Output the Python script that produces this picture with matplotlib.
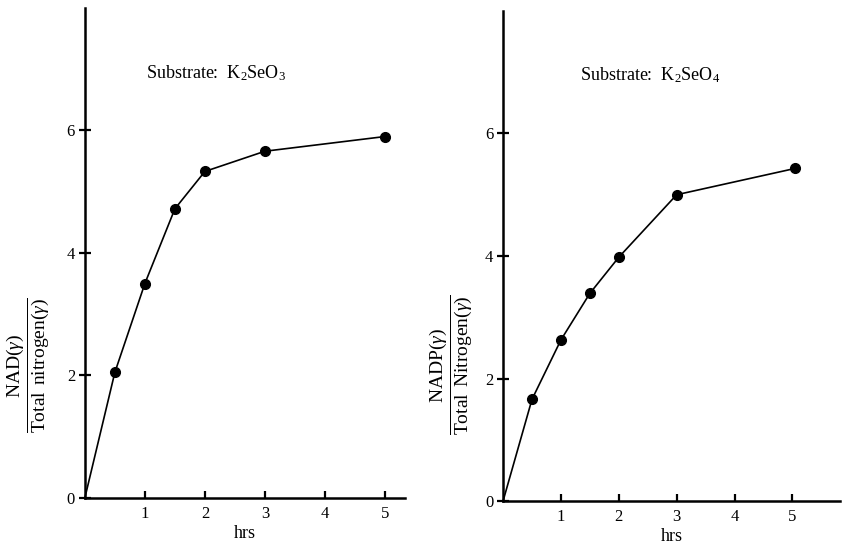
import numpy as np
import matplotlib
matplotlib.use("Agg")
import matplotlib.pyplot as plt

plt.rcParams['font.family'] = ['Liberation Serif', 'DejaVu Serif']
plt.rcParams['mathtext.fontset'] = 'custom'
plt.rcParams['mathtext.rm'] = 'Liberation Serif'
plt.rcParams['mathtext.it'] = 'Liberation Serif:italic'

# data
hrs_se3 = [0, 0.5, 1, 1.5, 2, 3, 5]
nad_se3 = [0, 2.05, 3.5, 4.72, 5.33, 5.66, 5.9]

hrs_se4 = [0, 0.5, 1, 1.5, 2, 3, 5.05]
nadp_se4 = [0, 1.66, 2.63, 3.39, 3.98, 5.0, 5.43]

x_ticks = [1, 2, 3, 4, 5]
y_ticks = [0, 2, 4, 6]

panels = [
    dict(x=hrs_se3, y=nad_se3, rect=[0.099, 0.0896, 0.374, 0.896], xmax=5.34,
         title=r'Substrate:  K$_2$SeO$_3$', tpos=(0.41, 0.867),
         ylabel=r'$\dfrac{\mathrm{NAD}(\gamma)}{\mathrm{Total\ \,nitrogen}(\gamma)}$',
         lx=0.032),
    dict(x=hrs_se4, y=nadp_se4, rect=[0.587, 0.084, 0.393, 0.896], xmax=5.82,
         title=r'Substrate:  K$_2$SeO$_4$', tpos=(0.436, 0.869),
         ylabel=r'$\dfrac{\mathrm{NADP}(\gamma)}{\mathrm{Total\ \,Nitrogen}(\gamma)}$',
         lx=0.526),
]

fig = plt.figure(figsize=(8.57, 5.47), dpi=100)

for p in panels:
    ax = fig.add_axes(p['rect'])
    ax.plot(p['x'], p['y'], color='black', lw=1.2, marker='o', markersize=7,
            markevery=list(range(1, len(p['x']))), clip_on=False)
    ax.set_xlim(0, p['xmax'])
    ax.set_ylim(0, 8)
    ax.spines['top'].set_visible(False)
    ax.spines['right'].set_visible(False)
    ax.spines['left'].set_linewidth(1.8)
    ax.spines['bottom'].set_linewidth(1.8)
    ax.set_xticks(x_ticks)
    ax.set_yticks(y_ticks)
    ax.tick_params(axis='x', direction='in', length=5, width=1.6, labelsize=12, pad=6)
    ax.tick_params(axis='y', direction='inout', length=8, width=1.6, labelsize=12, pad=3)
    ax.set_xlabel('hrs', fontsize=13, labelpad=2)
    ax.text(p['tpos'][0], p['tpos'][1], p['title'], transform=ax.transAxes,
            ha='center', va='center', fontsize=13)
    fig.text(p['lx'], 0.333, p['ylabel'], rotation=90, ha='center', va='center',
             fontsize=14)

fig.savefig('out.png', dpi=100)
